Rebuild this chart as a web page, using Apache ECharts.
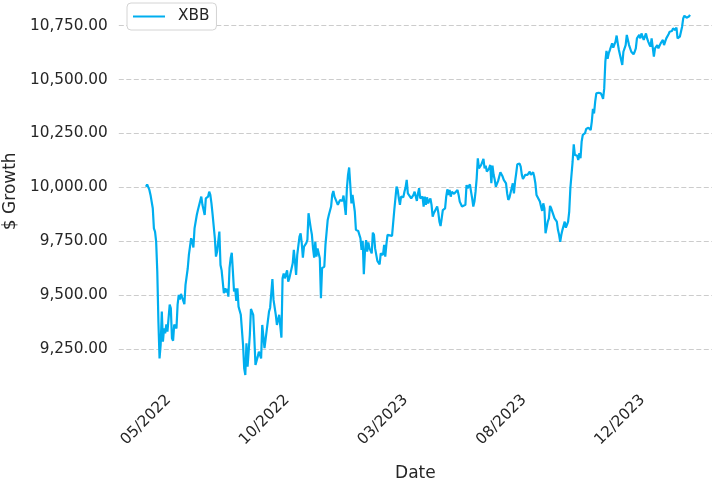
<!DOCTYPE html>
<html>
<head>
<meta charset="utf-8">
<script src="https://cdn.jsdelivr.net/npm/echarts@6/dist/echarts.min.js"></script>
<style>
  html, body { margin: 0; padding: 0; background: #fff; }
  #chart { width: 712px; height: 482px; }
</style>
</head>
<body>
<div id="chart"></div>
<script>
// trading day index (0 = first day in the sample) and growth of $10,000
const tradingDay = [
  0, 1, 3, 4, 6, 7, 8, 9, 10, 11, 12, 13, 14, 15, 16, 17, 18, 19, 21, 22, 23, 24, 25, 27, 28, 29, 30, 31, 32, 34,
  35, 36, 37, 38, 40, 41, 42, 43, 45, 46, 47, 49, 50, 51, 52, 53, 55, 56, 57, 58, 59, 60, 61, 62, 63, 64, 65, 66,
  67, 69, 70, 71, 72, 73, 74, 75, 76, 77, 78, 79, 80, 81, 82, 84, 86, 87, 88, 89, 90, 92, 93, 95, 96, 97, 99, 100,
  102, 103, 105, 106, 107, 108, 109, 110, 112, 113, 114, 115, 116, 118, 119, 120, 121, 122, 123, 125, 126, 127, 128,
  130, 131, 132, 133, 134, 136, 137, 138, 139,
  140, 142, 143, 144, 146, 147, 148, 149, 150, 151, 152, 154, 155, 156, 158, 159, 160, 161, 162, 164, 165, 166, 167,
  168, 170, 171, 172, 174, 175, 177, 178, 179, 180, 181, 182, 183, 185, 186, 187, 188, 190, 191, 192, 193, 194, 195,
  196, 197, 198, 200, 201, 202, 203, 205, 206, 207, 208, 210, 211, 212, 213,
  214, 218, 220, 222, 223, 224, 225, 226, 228, 229, 230, 231, 232, 233, 235, 236, 237, 238, 240, 241, 242, 243, 244,
  245, 246, 247, 248, 249, 250, 252, 253, 254, 255, 256, 258, 259, 260, 261, 262, 263, 265, 266, 267, 268, 269, 270,
  271, 273, 274, 276, 277, 278, 280, 281,
  283, 284, 285, 287, 288, 289, 290, 291, 292, 293, 294, 295, 297, 298, 299, 300, 301, 302, 304, 305, 306, 307, 308,
  309, 310, 312, 313, 314, 315, 316, 317, 319, 320, 321, 322, 323, 325, 326, 327, 328, 329, 331, 332, 333, 334, 336,
  337, 338, 339, 340, 341, 343, 344, 345, 346, 347, 349, 350, 351, 352, 353,
  354, 356, 357, 358, 359, 360, 362, 363, 364, 365, 366, 367, 368, 369, 371, 372, 373, 374, 375, 376, 378, 379, 380,
  381, 382, 383, 384, 385, 386, 387, 388, 389, 390, 392, 393, 394, 395, 396, 397, 398, 399, 401, 402, 403, 404, 405,
  406, 407, 408, 409, 410, 411, 412, 413, 414, 415, 416, 417, 418, 419, 420,
  422, 423, 425, 426, 427, 428, 430, 431, 432, 433, 434, 435, 437, 438, 439, 440, 441, 443, 444, 445, 446, 447, 448,
  450, 451, 452, 453, 454, 456, 457, 458, 459, 460, 461, 463, 464, 465, 466, 467, 469, 470, 471, 472, 473, 475, 476,
  477, 478, 479, 481, 482
]
const growth = [
  10003, 10014, 9988, 9965, 9903, 9810, 9795, 9748, 9609, 9377, 9207, 9271, 9424, 9285, 9346, 9323, 9364, 9331, 9456, 9439, 9300, 9289, 9364, 9346, 9456, 9501, 9480, 9506, 9501, 9458,
  9548, 9540, 9625, 9687, 9764, 9748, 9721, 9810, 9872, 9895, 9891, 9957, 9919, 9926, 9872, 9949, 9957, 9980, 9965, 9926, 9875, 9872, 9764, 9679, 9702, 9702, 9795, 9640,
  9615, 9509, 9532, 9513, 9529, 9493, 9625, 9671, 9697, 9609, 9517, 9532, 9473, 9532, 9447, 9409, 9269, 9161, 9130, 9277, 9169, 9316, 9436, 9409, 9300, 9177, 9215, 9238,
  9207, 9362, 9254, 9246, 9339, 9346, 9424, 9442, 9575, 9478, 9478, 9409, 9362, 9409, 9405, 9303, 9578, 9601, 9578, 9615, 9563, 9578, 9581,
  9648, 9710, 9656, 9594, 9687, 9772, 9787, 9741, 9674,
  9725, 9741, 9756, 9880, 9810, 9780, 9717, 9674, 9748, 9679, 9717, 9671, 9486, 9625, 9633, 9733, 9725, 9849, 9872, 9911, 9965, 9983, 9957,
  9965, 9919, 9931, 9942, 9937, 9962, 9872, 9996, 10058, 10092, 10011, 9926, 9965, 9888, 9803, 9795, 9798, 9764, 9710, 9752, 9597, 9702, 9756,
  9702, 9745, 9717, 9694, 9790, 9780, 9717, 9659, 9651, 9643, 9694, 9687, 9733, 9679, 9736,
  9780, 9775, 9895, 10003, 9988, 9949, 9919, 9957, 9954, 9980, 10000, 10035, 9972, 9972, 9949, 9942, 9965, 9980, 9937, 9972, 9996, 9949, 9942,
  9957, 9911, 9957, 9919, 9954, 9926, 9949, 9919, 9864, 9880, 9875, 9911, 9883, 9841, 9821, 9856, 9895, 9903, 9957, 9991, 9965, 9988, 9957,
  9980, 9970, 9972, 9988, 9965, 9934, 9911, 9903,
  9919, 10011, 9996, 10014, 9980, 9949, 9911, 9934, 9980, 10042, 10135, 10088, 10104, 10112, 10132, 10088, 10101, 10073, 10088, 10104, 10019, 10101, 10058,
  10035, 10003, 10030, 10050, 10070, 10065, 10050, 10035, 10019, 9972, 9942, 9952, 9946, 10019, 9972, 10027, 10065, 10107, 10110, 10096, 10058, 10039, 10058,
  10054, 10058, 10065, 10073, 10058, 10070, 10050, 10019, 9965, 9957, 9934, 9911, 9891, 9926, 9903,
  9787, 9841, 9856, 9914, 9903, 9895, 9856, 9854, 9841, 9803, 9780, 9748, 9780, 9803, 9841, 9813, 9826, 9841, 9888, 9996, 10119, 10200, 10150,
  10158, 10147, 10127, 10158, 10135, 10212, 10243, 10235, 10251, 10271, 10277, 10271, 10266, 10305, 10364, 10343, 10398, 10436, 10439, 10431, 10436, 10425, 10410,
  10459, 10583, 10633, 10596, 10622, 10637, 10645, 10668, 10648, 10645, 10676, 10704, 10668, 10637, 10614,
  10568, 10629, 10660, 10707, 10699, 10660, 10629, 10637, 10617, 10629, 10645, 10691, 10707, 10691, 10714, 10707, 10684, 10714, 10691, 10676, 10663, 10653, 10691,
  10606, 10645, 10637, 10660, 10645, 10668, 10663, 10684, 10660, 10676, 10691, 10710, 10722, 10714, 10725, 10737, 10730, 10741, 10691, 10684, 10699, 10745, 10784,
  10796, 10787, 10787, 10792, 10800
]
const tickDays = [0, 105, 210, 315, 420]
const tickLabels = ['05/2022', '10/2022', '03/2023', '08/2023', '12/2023']
const seriesName = 'XBB'

const textColor = '#262626'
const fontFamily = 'DejaVu Sans'

const chart = echarts.init(document.getElementById('chart'), null, { renderer: 'canvas' })

const option = {
  animation: false,
  backgroundColor: '#ffffff',
  textStyle: { fontFamily },
  grid: {
    left: 118.8,
    right: 0,
    top: 1.5,
    bottom: 79,
    outerBoundsMode: 'none',
  },
  legend: {
    left: 127,
    top: 3,
    padding: [6, 7, 6, 6],
    borderColor: '#d4d4d4',
    borderWidth: 1,
    borderRadius: 4,
    backgroundColor: '#ffffff',
    icon: 'rect',
    itemWidth: 32,
    itemHeight: 2,
    textStyle: {
      color: textColor,
      fontSize: 15.3,
      fontFamily,
      padding: [0, 0, 0, 8],
    },
    data: [seriesName],
  },
  xAxis: {
    type: 'value',
    min: -24.1,
    max: 501.5,
    name: 'Date',
    nameLocation: 'middle',
    nameGap: 62,
    nameTextStyle: { color: textColor, fontSize: 17, fontFamily },
    axisLine: { show: false },
    axisTick: { show: false, customValues: tickDays },
    splitLine: { show: false },
    axisLabel: {
      customValues: tickDays,
      formatter: (v) => {
        const i = tickDays.indexOf(v)
        return i >= 0 ? tickLabels[i] : ''
      },
      rotate: 45,
      align: 'center',
      verticalAlign: 'middle',
      margin: 17,
      color: textColor,
      fontSize: 15.3,
      fontFamily,
    },
  },
  yAxis: {
    type: 'value',
    min: 9000,
    max: 10862,
    interval: 250,
    name: '$ Growth',
    nameLocation: 'middle',
    nameGap: 93,
    nameTextStyle: { color: textColor, fontSize: 17, fontFamily, padding: [0, 0, 0, 22] },
    axisLine: { show: false },
    axisTick: { show: false },
    splitLine: {
      show: true,
      showMinLine: false,
      showMaxLine: false,
      lineStyle: { color: '#cccccc', width: 1, type: [5, 2.5] },
    },
    axisLabel: {
      showMinLabel: false,
      showMaxLabel: false,
      margin: 11,
      color: textColor,
      fontSize: 15.3,
      fontFamily,
      formatter: (v) => v.toLocaleString('en-US', { minimumFractionDigits: 2, maximumFractionDigits: 2 }),
    },
  },
  series: [
    {
      name: seriesName,
      type: 'line',
      data: tradingDay.map((d, i) => [d, growth[i]]),
      showSymbol: false,
      symbol: 'none',
      color: '#00AEEF',
      lineStyle: { color: '#00AEEF', width: 2.2 },
      emphasis: { disabled: true },
    },
  ],
}

chart.setOption(option)
</script>
</body>
</html>
